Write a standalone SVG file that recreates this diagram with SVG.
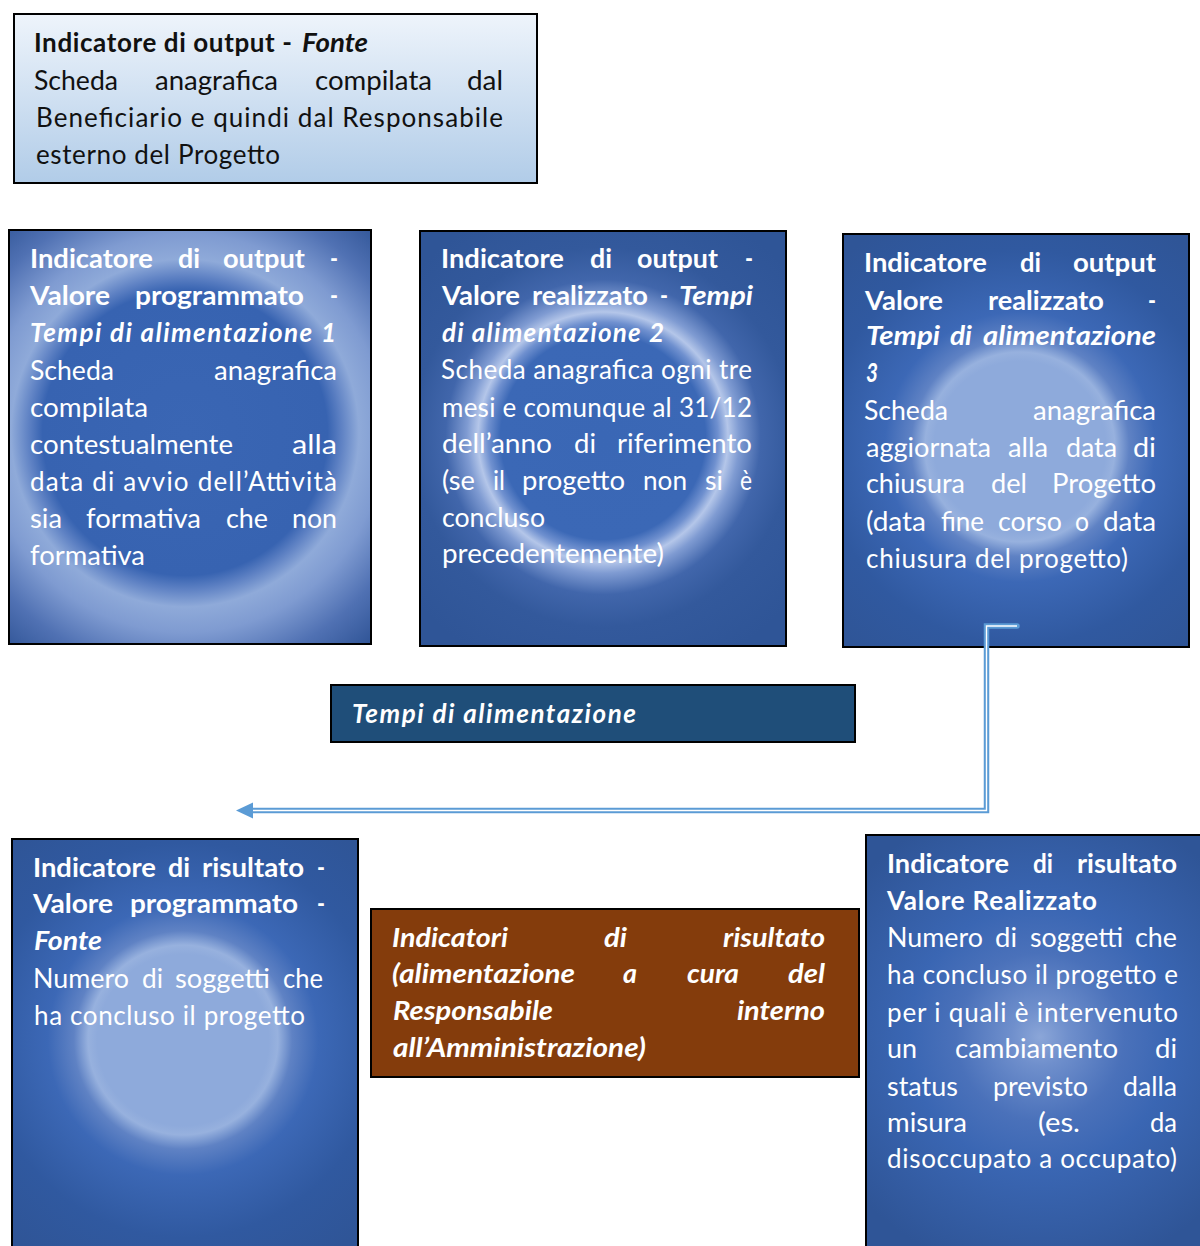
<svg xmlns="http://www.w3.org/2000/svg" width="1200" height="1246" viewBox="0 0 1200 1246">
<style>
text{font-family:Lato,"Open Sans","Liberation Sans",sans-serif;font-size:26px;fill:#fff}
.dk{fill:#111}
.b{font-weight:bold}
.bi{font-weight:bold;font-style:italic}
.box{stroke:#000;stroke-width:2}
</style>
<defs>
<linearGradient id="gTop" x1="0" y1="0" x2="0" y2="1"><stop offset="0" stop-color="#eef4fb"/><stop offset="1" stop-color="#b1cce8"/></linearGradient>
<radialGradient id="gA" gradientUnits="userSpaceOnUse" cx="185" cy="433" r="285"><stop offset="0" stop-color="#3a66b4"/><stop offset="0.5" stop-color="#3763b1"/><stop offset="0.55" stop-color="#5f82c4"/><stop offset="0.61" stop-color="#8faad9"/><stop offset="0.7" stop-color="#7f9bd1"/><stop offset="0.84" stop-color="#5071b3"/><stop offset="1" stop-color="#2d5294"/></radialGradient>
<radialGradient id="gB" gradientUnits="userSpaceOnUse" cx="603" cy="437" r="250"><stop offset="0" stop-color="#3a67b5"/><stop offset="0.41" stop-color="#3b68b6"/><stop offset="0.46" stop-color="#6f90cf"/><stop offset="0.5" stop-color="#b4c6e9"/><stop offset="0.545" stop-color="#7f9bd2"/><stop offset="0.63" stop-color="#4166ab"/><stop offset="0.76" stop-color="#33599c"/><stop offset="1" stop-color="#2f5597"/></radialGradient>
<radialGradient id="gC" gradientUnits="userSpaceOnUse" cx="1020" cy="447" r="260"><stop offset="0" stop-color="#8eaadb"/><stop offset="0.33" stop-color="#8eaadb"/><stop offset="0.365" stop-color="#97b1de"/><stop offset="0.42" stop-color="#5f82c4"/><stop offset="0.52" stop-color="#3c68b6"/><stop offset="0.76" stop-color="#3059a0"/><stop offset="1" stop-color="#2f5597"/></radialGradient>
<radialGradient id="gD" gradientUnits="userSpaceOnUse" cx="183" cy="1040" r="260"><stop offset="0" stop-color="#8eaadb"/><stop offset="0.33" stop-color="#8eaadb"/><stop offset="0.365" stop-color="#97b1de"/><stop offset="0.42" stop-color="#5f82c4"/><stop offset="0.52" stop-color="#3c68b6"/><stop offset="0.76" stop-color="#3059a0"/><stop offset="1" stop-color="#2f5597"/></radialGradient>
<radialGradient id="gE" gradientUnits="userSpaceOnUse" cx="1040" cy="1037" r="240"><stop offset="0" stop-color="#8ba6d8"/><stop offset="0.12" stop-color="#6f8fcc"/><stop offset="0.35" stop-color="#4a71ba"/><stop offset="0.55" stop-color="#3a66b3"/><stop offset="1" stop-color="#2f5597"/></radialGradient>
</defs>
<rect width="1200" height="1246" fill="#fff"/>

<g id="n-fonte">
<rect class="box" x="14" y="14" width="523" height="169" fill="url(#gTop)"/>
<text class="dk b" x="34" y="52" textLength="258" lengthAdjust="spacing">Indicatore di output -</text>
<text class="dk bi" x="302" y="52" textLength="66" lengthAdjust="spacingAndGlyphs">Fonte</text>
<text class="dk" x="34" y="90" textLength="84" lengthAdjust="spacingAndGlyphs">Scheda</text>
<text class="dk" x="155" y="90" textLength="123" lengthAdjust="spacingAndGlyphs">anagrafica</text>
<text class="dk" x="315" y="90" textLength="117" lengthAdjust="spacingAndGlyphs">compilata</text>
<text class="dk" x="467" y="90" textLength="36" lengthAdjust="spacingAndGlyphs">dal</text>
<text class="dk" x="36" y="127" textLength="467" lengthAdjust="spacing">Beneficiario e quindi dal Responsabile</text>
<text class="dk" x="36" y="164" textLength="244" lengthAdjust="spacing">esterno del Progetto</text>
</g>

<g id="n-out1">
<rect class="box" x="9" y="230" width="362" height="414" fill="url(#gA)"/>
<text class="b" x="30" y="268" textLength="123" lengthAdjust="spacingAndGlyphs">Indicatore</text>
<text class="b" x="178" y="268" textLength="22" lengthAdjust="spacingAndGlyphs">di</text>
<text class="b" x="223" y="268" textLength="82" lengthAdjust="spacingAndGlyphs">output</text>
<text class="b" x="330" y="268" textLength="8" lengthAdjust="spacingAndGlyphs">-</text>
<text class="b" x="30" y="305" textLength="80" lengthAdjust="spacingAndGlyphs">Valore</text>
<text class="b" x="135" y="305" textLength="169" lengthAdjust="spacingAndGlyphs">programmato</text>
<text class="b" x="330" y="305" textLength="8" lengthAdjust="spacingAndGlyphs">-</text>
<text class="bi" x="30" y="342" textLength="306" lengthAdjust="spacing">Tempi di alimentazione 1</text>
<text x="30" y="380" textLength="84" lengthAdjust="spacingAndGlyphs">Scheda</text>
<text x="214" y="380" textLength="123" lengthAdjust="spacingAndGlyphs">anagrafica</text>
<text x="30" y="417" textLength="118" lengthAdjust="spacingAndGlyphs">compilata</text>
<text x="30" y="454" textLength="203" lengthAdjust="spacingAndGlyphs">contestualmente</text>
<text x="292" y="454" textLength="45" lengthAdjust="spacingAndGlyphs">alla</text>
<text x="30" y="491" textLength="307" lengthAdjust="spacing">data di avvio dell’Attività</text>
<text x="30" y="528" textLength="32" lengthAdjust="spacingAndGlyphs">sia</text>
<text x="86" y="528" textLength="115" lengthAdjust="spacingAndGlyphs">formativa</text>
<text x="226" y="528" textLength="42" lengthAdjust="spacingAndGlyphs">che</text>
<text x="292" y="528" textLength="45" lengthAdjust="spacingAndGlyphs">non</text>
<text x="30" y="565" textLength="115" lengthAdjust="spacingAndGlyphs">formativa</text>
</g>

<g id="n-out2">
<rect class="box" x="420" y="231" width="366" height="415" fill="url(#gB)"/>
<text class="b" x="441" y="268" textLength="123" lengthAdjust="spacingAndGlyphs">Indicatore</text>
<text class="b" x="590" y="268" textLength="22" lengthAdjust="spacingAndGlyphs">di</text>
<text class="b" x="637" y="268" textLength="81" lengthAdjust="spacingAndGlyphs">output</text>
<text class="b" x="745" y="268" textLength="8" lengthAdjust="spacingAndGlyphs">-</text>
<text class="b" x="442" y="305" textLength="78" lengthAdjust="spacingAndGlyphs">Valore</text>
<text class="b" x="532" y="305" textLength="116" lengthAdjust="spacingAndGlyphs">realizzato</text>
<text class="b" x="660" y="305" textLength="8" lengthAdjust="spacingAndGlyphs">-</text>
<text class="bi" x="679" y="305" textLength="74" lengthAdjust="spacingAndGlyphs">Tempi</text>
<text class="bi" x="442" y="342" textLength="222" lengthAdjust="spacing">di alimentazione 2</text>
<text x="441" y="379" textLength="311" lengthAdjust="spacing">Scheda anagrafica ogni tre</text>
<text x="442" y="417" textLength="310" lengthAdjust="spacing">mesi e comunque al 31/12</text>
<text x="442" y="453" textLength="110" lengthAdjust="spacingAndGlyphs">dell’anno</text>
<text x="574" y="453" textLength="22" lengthAdjust="spacingAndGlyphs">di</text>
<text x="617" y="453" textLength="135" lengthAdjust="spacingAndGlyphs">riferimento</text>
<text x="442" y="490" textLength="33" lengthAdjust="spacingAndGlyphs">(se</text>
<text x="493" y="490" textLength="12" lengthAdjust="spacingAndGlyphs">il</text>
<text x="522" y="490" textLength="103" lengthAdjust="spacingAndGlyphs">progetto</text>
<text x="643" y="490" textLength="44" lengthAdjust="spacingAndGlyphs">non</text>
<text x="705" y="490" textLength="18" lengthAdjust="spacingAndGlyphs">si</text>
<text x="740" y="490" textLength="12" lengthAdjust="spacingAndGlyphs">è</text>
<text x="442" y="527" textLength="103" lengthAdjust="spacingAndGlyphs">concluso</text>
<text x="442" y="563" textLength="222" lengthAdjust="spacingAndGlyphs">precedentemente)</text>
</g>

<g id="n-out3">
<rect class="box" x="843" y="234" width="346" height="413" fill="url(#gC)"/>
<text class="b" x="864" y="272" textLength="123" lengthAdjust="spacingAndGlyphs">Indicatore</text>
<text class="b" x="1020" y="272" textLength="21" lengthAdjust="spacingAndGlyphs">di</text>
<text class="b" x="1073" y="272" textLength="83" lengthAdjust="spacingAndGlyphs">output</text>
<text class="b" x="865" y="310" textLength="78" lengthAdjust="spacingAndGlyphs">Valore</text>
<text class="b" x="988" y="310" textLength="116" lengthAdjust="spacingAndGlyphs">realizzato</text>
<text class="b" x="1148" y="310" textLength="8" lengthAdjust="spacingAndGlyphs">-</text>
<text class="bi" x="866" y="345" textLength="74" lengthAdjust="spacingAndGlyphs">Tempi</text>
<text class="bi" x="950" y="345" textLength="22" lengthAdjust="spacingAndGlyphs">di</text>
<text class="bi" x="983" y="345" textLength="173" lengthAdjust="spacingAndGlyphs">alimentazione</text>
<text class="bi" x="866" y="382" textLength="12" lengthAdjust="spacingAndGlyphs">3</text>
<text x="864" y="420" textLength="84" lengthAdjust="spacingAndGlyphs">Scheda</text>
<text x="1033" y="420" textLength="123" lengthAdjust="spacingAndGlyphs">anagrafica</text>
<text x="866" y="457" textLength="125" lengthAdjust="spacingAndGlyphs">aggiornata</text>
<text x="1008" y="457" textLength="40" lengthAdjust="spacingAndGlyphs">alla</text>
<text x="1066" y="457" textLength="51" lengthAdjust="spacingAndGlyphs">data</text>
<text x="1133" y="457" textLength="23" lengthAdjust="spacingAndGlyphs">di</text>
<text x="866" y="493" textLength="99" lengthAdjust="spacingAndGlyphs">chiusura</text>
<text x="991" y="493" textLength="36" lengthAdjust="spacingAndGlyphs">del</text>
<text x="1052" y="493" textLength="104" lengthAdjust="spacingAndGlyphs">Progetto</text>
<text x="866" y="531" textLength="60" lengthAdjust="spacingAndGlyphs">(data</text>
<text x="941" y="531" textLength="43" lengthAdjust="spacingAndGlyphs">fine</text>
<text x="998" y="531" textLength="64" lengthAdjust="spacingAndGlyphs">corso</text>
<text x="1075" y="531" textLength="14" lengthAdjust="spacingAndGlyphs">o</text>
<text x="1103" y="531" textLength="53" lengthAdjust="spacingAndGlyphs">data</text>
<text x="866" y="568" textLength="262" lengthAdjust="spacing">chiusura del progetto)</text>
</g>

<g id="n-tempi">
<rect class="box" x="331" y="685" width="524" height="57" fill="#1f4e79"/>
<text class="bi" x="352" y="723" textLength="284" lengthAdjust="spacing">Tempi di alimentazione</text>
</g>

<g id="n-ris-prog">
<rect class="box" x="12" y="839" width="346" height="420" fill="url(#gD)"/>
<text class="b" x="33" y="877" textLength="123" lengthAdjust="spacingAndGlyphs">Indicatore</text>
<text class="b" x="168" y="877" textLength="22" lengthAdjust="spacingAndGlyphs">di</text>
<text class="b" x="202" y="877" textLength="102" lengthAdjust="spacingAndGlyphs">risultato</text>
<text class="b" x="317" y="877" textLength="8" lengthAdjust="spacingAndGlyphs">-</text>
<text class="b" x="33" y="913" textLength="80" lengthAdjust="spacingAndGlyphs">Valore</text>
<text class="b" x="130" y="913" textLength="168" lengthAdjust="spacingAndGlyphs">programmato</text>
<text class="b" x="317" y="913" textLength="8" lengthAdjust="spacingAndGlyphs">-</text>
<text class="bi" x="34" y="950" textLength="68" lengthAdjust="spacingAndGlyphs">Fonte</text>
<text x="33" y="988" textLength="96" lengthAdjust="spacingAndGlyphs">Numero</text>
<text x="142" y="988" textLength="21" lengthAdjust="spacingAndGlyphs">di</text>
<text x="175" y="988" textLength="95" lengthAdjust="spacingAndGlyphs">soggetti</text>
<text x="283" y="988" textLength="40" lengthAdjust="spacingAndGlyphs">che</text>
<text x="34" y="1025" textLength="271" lengthAdjust="spacing">ha concluso il progetto</text>
</g>

<g id="n-ris-int">
<rect class="box" x="371" y="909" width="488" height="168" fill="#843c0c"/>
<text class="bi" x="392" y="947" textLength="116" lengthAdjust="spacingAndGlyphs">Indicatori</text>
<text class="bi" x="604" y="947" textLength="23" lengthAdjust="spacingAndGlyphs">di</text>
<text class="bi" x="723" y="947" textLength="102" lengthAdjust="spacingAndGlyphs">risultato</text>
<text class="bi" x="392" y="983" textLength="183" lengthAdjust="spacingAndGlyphs">(alimentazione</text>
<text class="bi" x="623" y="983" textLength="14" lengthAdjust="spacingAndGlyphs">a</text>
<text class="bi" x="687" y="983" textLength="52" lengthAdjust="spacingAndGlyphs">cura</text>
<text class="bi" x="788" y="983" textLength="37" lengthAdjust="spacingAndGlyphs">del</text>
<text class="bi" x="393" y="1020" textLength="160" lengthAdjust="spacingAndGlyphs">Responsabile</text>
<text class="bi" x="737" y="1020" textLength="88" lengthAdjust="spacingAndGlyphs">interno</text>
<text class="bi" x="393" y="1057" textLength="253" lengthAdjust="spacingAndGlyphs">all’Amministrazione)</text>
</g>

<g id="n-ris-real">
<rect class="box" x="866" y="835" width="340" height="420" fill="url(#gE)"/>
<text class="b" x="887" y="873" textLength="122" lengthAdjust="spacingAndGlyphs">Indicatore</text>
<text class="b" x="1033" y="873" textLength="20" lengthAdjust="spacingAndGlyphs">di</text>
<text class="b" x="1077" y="873" textLength="100" lengthAdjust="spacingAndGlyphs">risultato</text>
<text class="b" x="887" y="910" textLength="210" lengthAdjust="spacing">Valore Realizzato</text>
<text x="887" y="947" textLength="96" lengthAdjust="spacingAndGlyphs">Numero</text>
<text x="995" y="947" textLength="22" lengthAdjust="spacingAndGlyphs">di</text>
<text x="1030" y="947" textLength="93" lengthAdjust="spacingAndGlyphs">soggetti</text>
<text x="1135" y="947" textLength="42" lengthAdjust="spacingAndGlyphs">che</text>
<text x="887" y="984" textLength="291" lengthAdjust="spacing">ha concluso il progetto e</text>
<text x="887" y="1022" textLength="291" lengthAdjust="spacing">per i quali è intervenuto</text>
<text x="887" y="1058" textLength="30" lengthAdjust="spacingAndGlyphs">un</text>
<text x="955" y="1058" textLength="163" lengthAdjust="spacingAndGlyphs">cambiamento</text>
<text x="1155" y="1058" textLength="22" lengthAdjust="spacingAndGlyphs">di</text>
<text x="887" y="1096" textLength="71" lengthAdjust="spacingAndGlyphs">status</text>
<text x="993" y="1096" textLength="95" lengthAdjust="spacingAndGlyphs">previsto</text>
<text x="1123" y="1096" textLength="54" lengthAdjust="spacingAndGlyphs">dalla</text>
<text x="887" y="1132" textLength="80" lengthAdjust="spacingAndGlyphs">misura</text>
<text x="1038" y="1132" textLength="42" lengthAdjust="spacingAndGlyphs">(es.</text>
<text x="1150" y="1132" textLength="27" lengthAdjust="spacingAndGlyphs">da</text>
<text x="887" y="1168" textLength="290" lengthAdjust="spacing">disoccupato a occupato)</text>
</g>

<g id="connectors">
<path d="M1017 626 L986.5 626 L986.5 810.5 L252 810.5" fill="none" stroke="#5b9bd5" stroke-width="5.5" stroke-linecap="round" stroke-linejoin="miter"/>
<path d="M1017 626 L986.5 626 L986.5 810.5 L252 810.5" fill="none" stroke="#ffffff" stroke-width="1.4" stroke-linejoin="miter"/>
<polygon points="236,810.5 253,802.5 253,818.5" fill="#5b9bd5"/>
</g>
</svg>
